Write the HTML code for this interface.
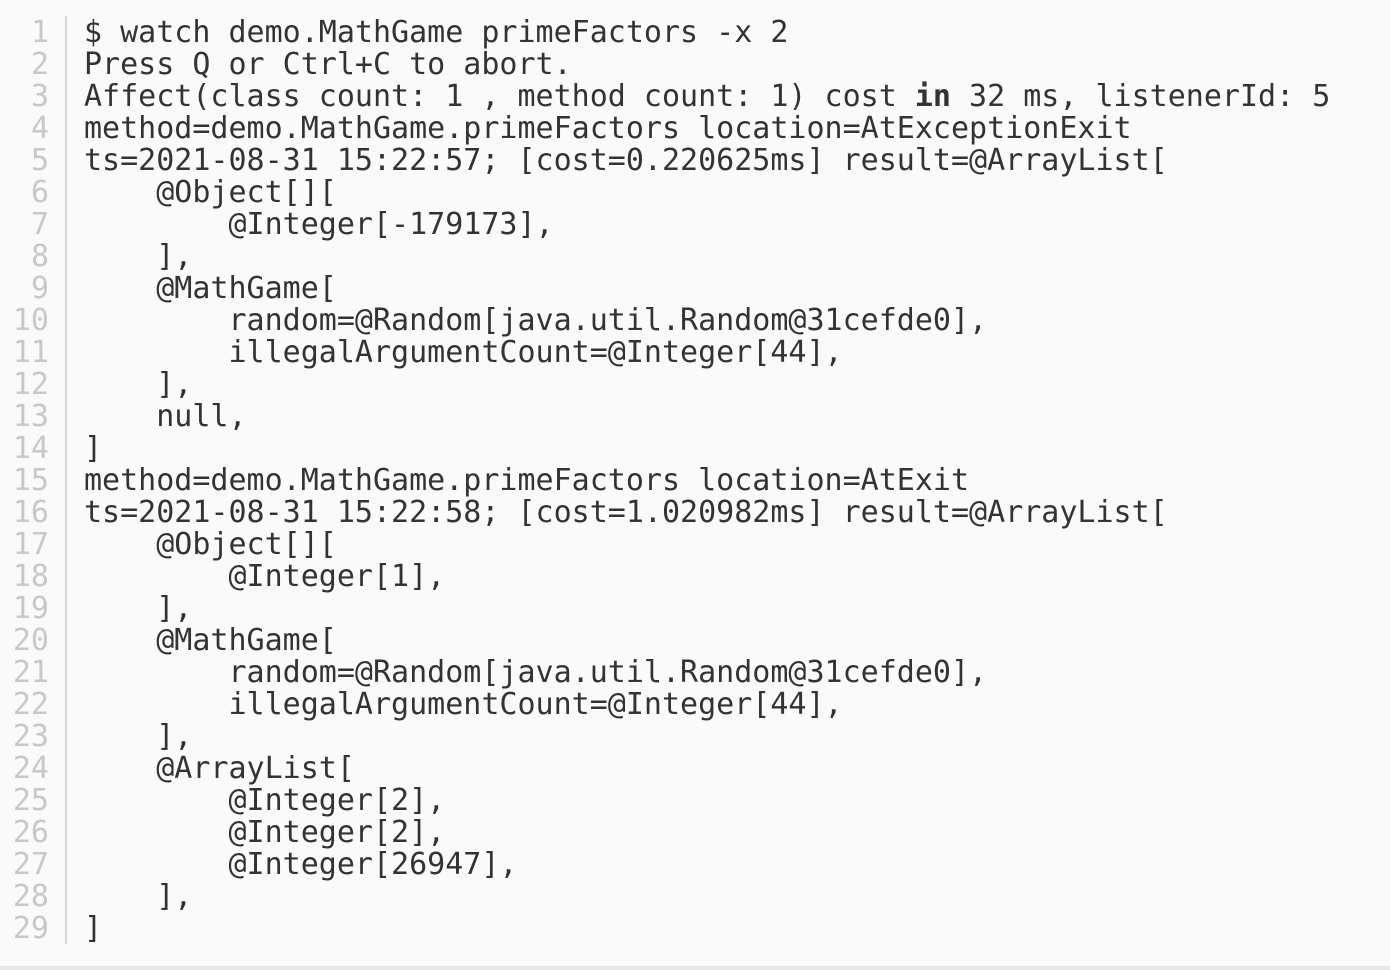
<!DOCTYPE html>
<html><head><style>
html,body{margin:0;padding:0;background:#fafafa;width:1390px;height:970px;overflow:hidden}
.ln{position:absolute;left:0;width:49px;text-align:right;color:#c8c8c8;font:30px/32px "DejaVu Sans Mono","Liberation Mono",monospace;white-space:pre}
.bar{position:absolute;left:65px;top:16px;width:2px;height:928px;background:#d4d4d4}
.code{position:absolute;left:84px;top:17px;color:#333;font:30px/32px "DejaVu Sans Mono","Liberation Mono",monospace;white-space:pre;margin:0}
.bot{position:absolute;left:0;top:966px;width:1390px;height:4px;background:#e6e8e8}
</style></head><body>
<div class="ln" style="top:17px">1
2
3
4
5
6
7
8
9
10
11
12
13
14
15
16
17
18
19
20
21
22
23
24
25
26
27
28
29</div>
<div class="bar"></div>
<pre class="code">$ watch demo.MathGame primeFactors -x 2
Press Q or Ctrl+C to abort.
Affect(class count: 1 , method count: 1) cost <b>in</b> 32 ms, listenerId: 5
method=demo.MathGame.primeFactors location=AtExceptionExit
ts=2021-08-31 15:22:57; [cost=0.220625ms] result=@ArrayList[
    @Object[][
        @Integer[-179173],
    ],
    @MathGame[
        random=@Random[java.util.Random@31cefde0],
        illegalArgumentCount=@Integer[44],
    ],
    null,
]
method=demo.MathGame.primeFactors location=AtExit
ts=2021-08-31 15:22:58; [cost=1.020982ms] result=@ArrayList[
    @Object[][
        @Integer[1],
    ],
    @MathGame[
        random=@Random[java.util.Random@31cefde0],
        illegalArgumentCount=@Integer[44],
    ],
    @ArrayList[
        @Integer[2],
        @Integer[2],
        @Integer[26947],
    ],
]</pre>
<div class="bot"></div>
</body></html>
